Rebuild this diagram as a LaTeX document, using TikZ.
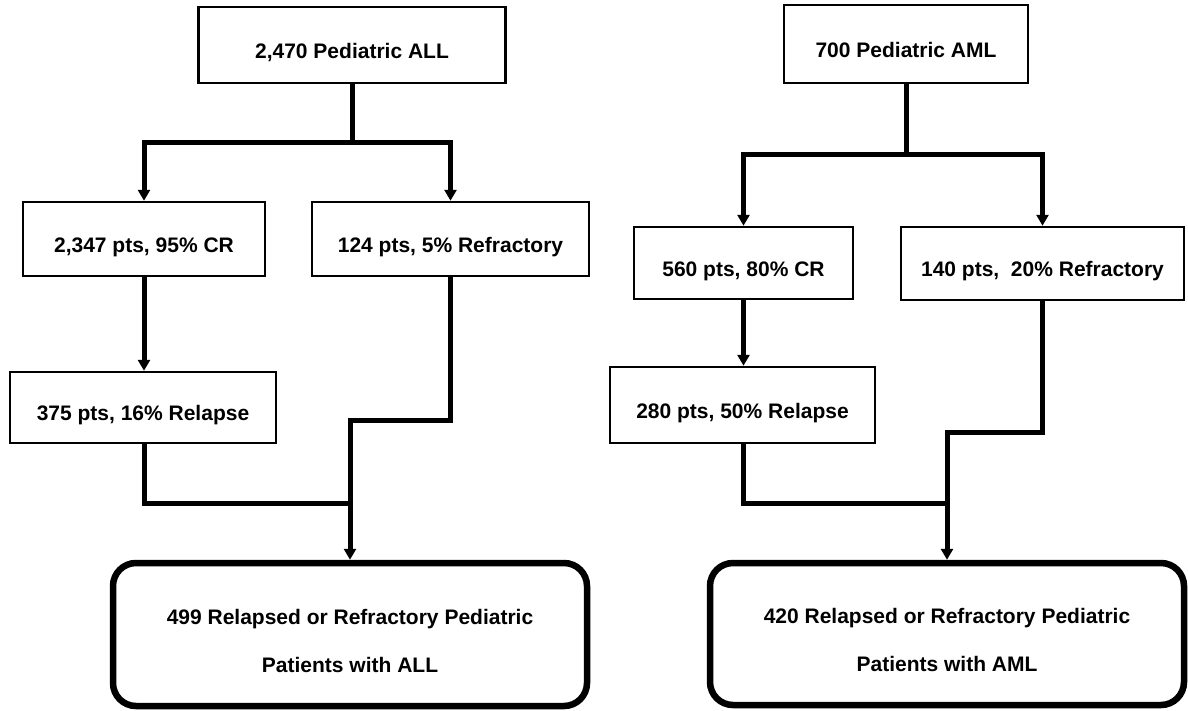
\documentclass[tikz,border=0pt]{standalone}
\usepackage{fontspec}
\setmainfont{Liberation Sans}
\usetikzlibrary{arrows.meta}
\begin{document}
\begin{tikzpicture}[x=1pt,y=-1pt,
  box/.style={draw, line width=2.5pt, inner sep=0pt, text height=26pt, text depth=0pt,
    font=\bfseries\fontsize{21}{25}\selectfont},
  finbox/.style={draw, line width=6.5pt, rounded corners=23pt, inner sep=0pt},
  fintext/.style={inner sep=0pt, align=center, font=\bfseries\fontsize{21}{48}\selectfont},
  conn/.style={line width=5pt},
  arr/.style={conn, -{Triangle[length=11pt,width=12pt]}}]
\useasboundingbox (0,0) rectangle (1188,710);

% ---------- left tree ----------
\node[box, minimum width=307pt, minimum height=76pt] (topL) at (352,45) {2,470 Pediatric ALL};
\node[box, minimum width=242pt, minimum height=74pt] (crL) at (144,239) {2,347 pts, 95\% CR};
\node[box, minimum width=277pt, minimum height=74pt] (refL) at (450.5,239) {124 pts, 5\% Refractory};
\node[box, minimum width=266pt, minimum height=71pt] (relL) at (143,407.5) {375 pts, 16\% Relapse};
\node[finbox, minimum width=474pt, minimum height=143pt] (finL) at (350,634.5) {};
\node[fintext] (finLt) at ([yshift=-6pt]finL.center)
  {499 Relapsed or Refractory Pediatric\\Patients with ALL};

\coordinate (jL) at (352,142);
\coordinate (kL) at (350,420);
\coordinate (mL) at (350,503);
\draw[conn] (topL.south) -- (jL);
\draw[arr] (jL) -| (crL.north);
\draw[arr] (jL) -| (refL.north);
\draw[arr] (crL.south) -- (crL.south |- relL.north);
\draw[conn] (relL.south -| crL.south) |- (mL);
\draw[arr] (refL.south) |- (kL) -- (finL.north);

% ---------- right tree ----------
\node[box, minimum width=244pt, minimum height=78pt] (topR) at (906,44) {700 Pediatric AML};
\node[box, minimum width=219pt, minimum height=72pt] (crR) at (743.5,263) {560 pts, 80\% CR};
\node[box, minimum width=283pt, minimum height=73pt] (refR) at (1042.5,263.5) {140 pts,\ \ 20\% Refractory};
\node[box, minimum width=265pt, minimum height=76pt] (relR) at (742.5,405) {280 pts, 50\% Relapse};
\node[finbox, minimum width=474pt, minimum height=142pt] (finR) at (947,634) {};
\node[fintext] (finRt) at ([yshift=-6pt]finR.center)
  {420 Relapsed or Refractory Pediatric\\Patients with AML};

\coordinate (jR) at (906,154);
\coordinate (kR) at (947,432);
\coordinate (mR) at (947,503);
\draw[conn] (topR.south) -- (jR);
\draw[arr] (jR) -| (crR.north);
\draw[arr] (jR) -| (refR.north);
\draw[arr] (crR.south) -- (crR.south |- relR.north);
\draw[conn] (relR.south -| crR.south) |- (mR);
\draw[arr] (refR.south) |- (kR) -- (finR.north);
\end{tikzpicture}
\end{document}
